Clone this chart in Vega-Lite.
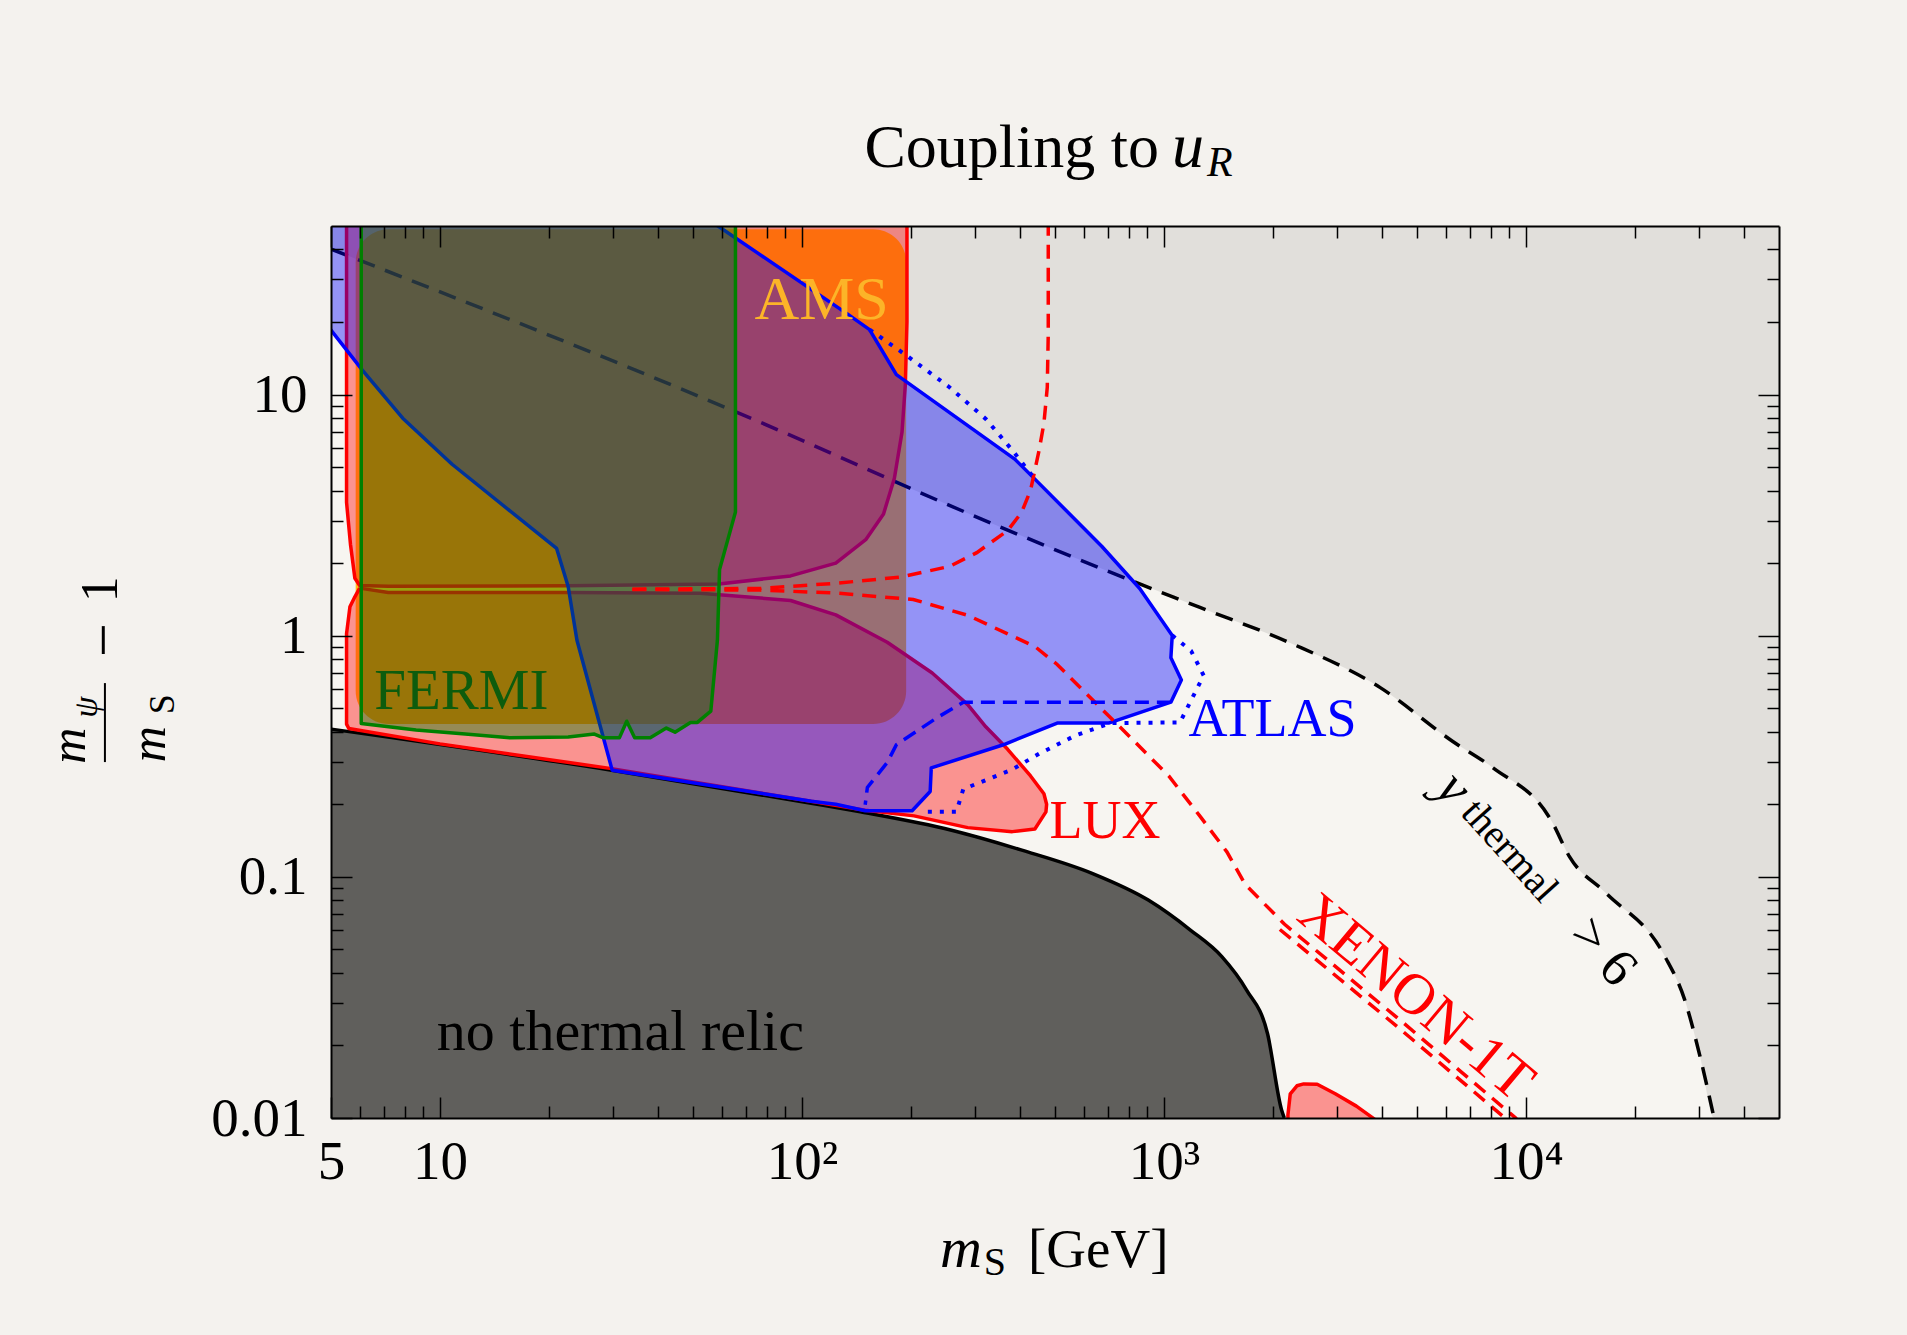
{
  "$schema": "https://vega.github.io/schema/vega-lite/v6.json",
  "width": 1448,
  "height": 892,
  "autosize": {"type": "none"},
  "padding": {"left": 331, "top": 226, "right": 128, "bottom": 217},
  "background": "#f4f2ee",
  "config": {
    "view": {"stroke": null, "fill": "#f7f5f1"},
    "axis": {"domainColor": "#000", "domainWidth": 2, "tickColor": "#000", "tickWidth": 1.5, "labelFont": "Liberation Serif", "labelFontSize": 55, "labelColor": "#000", "grid": false, "labelOverlap": false, "labelFlush": false, "labelBound": false, "title": null},
    "text": {"font": "Liberation Serif"}
  },
  "resolve": {"axis": {"x": "independent", "y": "independent"}},
  "datasets": {
    "thermal": [
      {"x": 5, "y": 40.1}, {"x": 66.4, "y": 8.42}, {"x": 344, "y": 2.87}, {"x": 799, "y": 1.71},
      {"x": 1257, "y": 1.31}, {"x": 2233, "y": 0.933}, {"x": 3958, "y": 0.609}, {"x": 6265, "y": 0.365},
      {"x": 8110, "y": 0.283}, {"x": 11776, "y": 0.17}, {"x": 13200, "y": 0.121}, {"x": 16617, "y": 0.0858},
      {"x": 24116, "y": 0.0472}, {"x": 27450, "y": 0.0309}, {"x": 30335, "y": 0.0177}, {"x": 33075, "y": 0.01},
      {"x": 50000, "y": 0.01}
    ],
    "relic": [
      {"x": 5, "y": 0.41}, {"x": 29.8, "y": 0.277}, {"x": 106, "y": 0.202}, {"x": 145, "y": 0.186},
      {"x": 259, "y": 0.156}, {"x": 405, "y": 0.129}, {"x": 633, "y": 0.1034}, {"x": 905, "y": 0.0801},
      {"x": 1183, "y": 0.0602}, {"x": 1445, "y": 0.0467}, {"x": 1690, "y": 0.034}, {"x": 1932, "y": 0.0224},
      {"x": 2113, "y": 0.0108}, {"x": 2150, "y": 0.01}
    ],
    "ams": [{"x": 5.85, "x2": 194, "y": 0.43, "y2": 48.5}],
    "lux": [
      {"part": "upper", "i": 1, "x": 5.52, "y": 60}, {"part": "upper", "i": 2, "x": 5.52, "y": 3.57},
      {"part": "upper", "i": 3, "x": 5.66, "y": 2.39}, {"part": "upper", "i": 4, "x": 5.82, "y": 1.73},
      {"part": "upper", "i": 5, "x": 6.0, "y": 1.615}, {"part": "upper", "i": 6, "x": 7.2, "y": 1.605},
      {"part": "upper", "i": 7, "x": 22.6, "y": 1.61}, {"part": "upper", "i": 8, "x": 59, "y": 1.64},
      {"part": "upper", "i": 9, "x": 93, "y": 1.77}, {"part": "upper", "i": 10, "x": 124, "y": 2.0},
      {"part": "upper", "i": 11, "x": 150, "y": 2.5}, {"part": "upper", "i": 12, "x": 168, "y": 3.2},
      {"part": "upper", "i": 13, "x": 180, "y": 4.5}, {"part": "upper", "i": 14, "x": 189, "y": 7},
      {"part": "upper", "i": 15, "x": 193, "y": 11}, {"part": "upper", "i": 16, "x": 195, "y": 20},
      {"part": "upper", "i": 17, "x": 195, "y": 60}, {"part": "upper", "i": 18, "x": 5.52, "y": 60},
      {"part": "lower", "i": 1, "x": 6.0, "y": 1.575}, {"part": "lower", "i": 2, "x": 7.2, "y": 1.512},
      {"part": "lower", "i": 3, "x": 22.6, "y": 1.51}, {"part": "lower", "i": 4, "x": 52.3, "y": 1.5},
      {"part": "lower", "i": 5, "x": 93, "y": 1.4}, {"part": "lower", "i": 6, "x": 124, "y": 1.22},
      {"part": "lower", "i": 7, "x": 172, "y": 0.94}, {"part": "lower", "i": 8, "x": 229, "y": 0.7},
      {"part": "lower", "i": 9, "x": 287, "y": 0.518}, {"part": "lower", "i": 10, "x": 322, "y": 0.419},
      {"part": "lower", "i": 11, "x": 370, "y": 0.338}, {"part": "lower", "i": 12, "x": 428, "y": 0.262},
      {"part": "lower", "i": 13, "x": 466, "y": 0.221}, {"part": "lower", "i": 14, "x": 474, "y": 0.2},
      {"part": "lower", "i": 15, "x": 472, "y": 0.186}, {"part": "lower", "i": 16, "x": 440, "y": 0.158},
      {"part": "lower", "i": 17, "x": 381, "y": 0.154}, {"part": "lower", "i": 18, "x": 287, "y": 0.16},
      {"part": "lower", "i": 19, "x": 204, "y": 0.179}, {"part": "lower", "i": 20, "x": 149.5, "y": 0.189},
      {"part": "lower", "i": 21, "x": 106, "y": 0.206}, {"part": "lower", "i": 22, "x": 29.8, "y": 0.281},
      {"part": "lower", "i": 23, "x": 10, "y": 0.356}, {"part": "lower", "i": 24, "x": 5.6, "y": 0.412},
      {"part": "lower", "i": 25, "x": 5.52, "y": 0.43}, {"part": "lower", "i": 26, "x": 5.52, "y": 1.02},
      {"part": "lower", "i": 27, "x": 5.64, "y": 1.318}, {"part": "lower", "i": 28, "x": 5.82, "y": 1.45},
      {"part": "lower", "i": 29, "x": 6.0, "y": 1.575},
      {"part": "blob", "i": 1, "x": 2200, "y": 0.009}, {"part": "blob", "i": 2, "x": 2200, "y": 0.0103},
      {"part": "blob", "i": 3, "x": 2233, "y": 0.0126}, {"part": "blob", "i": 4, "x": 2330, "y": 0.0136},
      {"part": "blob", "i": 5, "x": 2432, "y": 0.01385}, {"part": "blob", "i": 6, "x": 2650, "y": 0.0138},
      {"part": "blob", "i": 7, "x": 2973, "y": 0.0126}, {"part": "blob", "i": 8, "x": 3400, "y": 0.0112},
      {"part": "blob", "i": 9, "x": 3815, "y": 0.0099}, {"part": "blob", "i": 10, "x": 3850, "y": 0.009},
      {"part": "blob", "i": 11, "x": 2200, "y": 0.009}
    ],
    "atlas": [
      {"i": 1, "x": 4.9, "y": 60}, {"i": 2, "x": 4.9, "y": 19.2}, {"i": 3, "x": 5, "y": 18.5},
      {"i": 4, "x": 6.11, "y": 12.6}, {"i": 5, "x": 7.89, "y": 7.98}, {"i": 6, "x": 10.8, "y": 5.14},
      {"i": 7, "x": 21, "y": 2.3}, {"i": 8, "x": 22.6, "y": 1.6}, {"i": 9, "x": 23.9, "y": 0.958},
      {"i": 10, "x": 29.9, "y": 0.277}, {"i": 11, "x": 106, "y": 0.206}, {"i": 12, "x": 124, "y": 0.2},
      {"i": 13, "x": 149.5, "y": 0.188}, {"i": 14, "x": 201.5, "y": 0.188}, {"i": 15, "x": 226, "y": 0.226},
      {"i": 16, "x": 227.6, "y": 0.283}, {"i": 17, "x": 360, "y": 0.353}, {"i": 18, "x": 507, "y": 0.434},
      {"i": 19, "x": 703, "y": 0.434}, {"i": 20, "x": 1045, "y": 0.53}, {"i": 21, "x": 1117, "y": 0.655},
      {"i": 22, "x": 1045, "y": 0.811}, {"i": 23, "x": 1054, "y": 1.003}, {"i": 24, "x": 857, "y": 1.57},
      {"i": 25, "x": 673, "y": 2.35}, {"i": 26, "x": 440, "y": 4.46}, {"i": 27, "x": 387, "y": 5.4},
      {"i": 28, "x": 182.3, "y": 12.1}, {"i": 29, "x": 153.7, "y": 18.6}, {"i": 30, "x": 133.4, "y": 21.6},
      {"i": 31, "x": 58.6, "y": 50}, {"i": 32, "x": 49, "y": 60}, {"i": 33, "x": 4.9, "y": 60}
    ],
    "fermi": [
      {"i": 1, "x": 6.06, "y": 60}, {"i": 2, "x": 6.06, "y": 0.432}, {"i": 3, "x": 8.59, "y": 0.406},
      {"i": 4, "x": 11.74, "y": 0.391}, {"i": 5, "x": 15.6, "y": 0.377}, {"i": 6, "x": 22.6, "y": 0.38},
      {"i": 7, "x": 26.7, "y": 0.391}, {"i": 8, "x": 28.3, "y": 0.377}, {"i": 9, "x": 31.3, "y": 0.377},
      {"i": 10, "x": 32.8, "y": 0.442}, {"i": 11, "x": 34.5, "y": 0.377}, {"i": 12, "x": 38.1, "y": 0.377},
      {"i": 13, "x": 42.2, "y": 0.414}, {"i": 14, "x": 44.6, "y": 0.398}, {"i": 15, "x": 49.2, "y": 0.437},
      {"i": 16, "x": 51.4, "y": 0.437}, {"i": 17, "x": 56, "y": 0.487}, {"i": 18, "x": 58.4, "y": 0.958},
      {"i": 19, "x": 59.2, "y": 1.88}, {"i": 20, "x": 65.5, "y": 3.26}, {"i": 21, "x": 65.5, "y": 60},
      {"i": 22, "x": 6.06, "y": 60}
    ],
    "xenon": [
      {"part": "upper", "i": 1, "x": 34, "y": 1.56}, {"part": "upper", "i": 2, "x": 76.6, "y": 1.57},
      {"part": "upper", "i": 3, "x": 124, "y": 1.65}, {"part": "upper", "i": 4, "x": 187.6, "y": 1.75},
      {"part": "upper", "i": 5, "x": 256, "y": 1.94}, {"part": "upper", "i": 6, "x": 304, "y": 2.21},
      {"part": "upper", "i": 7, "x": 370, "y": 2.73}, {"part": "upper", "i": 8, "x": 404, "y": 3.24},
      {"part": "upper", "i": 9, "x": 428, "y": 4.01}, {"part": "upper", "i": 10, "x": 452, "y": 5.88},
      {"part": "upper", "i": 11, "x": 466, "y": 7.6}, {"part": "upper", "i": 12, "x": 476, "y": 10.7},
      {"part": "upper", "i": 13, "x": 479, "y": 17.8}, {"part": "upper", "i": 14, "x": 479, "y": 60},
      {"part": "lower", "i": 1, "x": 34, "y": 1.555}, {"part": "lower", "i": 2, "x": 76.6, "y": 1.546},
      {"part": "lower", "i": 3, "x": 124, "y": 1.503}, {"part": "lower", "i": 4, "x": 203, "y": 1.413},
      {"part": "lower", "i": 5, "x": 287, "y": 1.215}, {"part": "lower", "i": 6, "x": 440, "y": 0.902},
      {"part": "lower", "i": 7, "x": 507, "y": 0.76}, {"part": "lower", "i": 8, "x": 584, "y": 0.614},
      {"part": "lower", "i": 9, "x": 673, "y": 0.497}, {"part": "lower", "i": 10, "x": 799, "y": 0.385},
      {"part": "lower", "i": 11, "x": 1031, "y": 0.262}, {"part": "lower", "i": 12, "x": 1257, "y": 0.1785},
      {"part": "lower", "i": 13, "x": 1492, "y": 0.127}, {"part": "lower", "i": 14, "x": 1674, "y": 0.0933},
      {"part": "lower", "i": 15, "x": 2150, "y": 0.0637}, {"part": "lower", "i": 16, "x": 4570, "y": 0.0249},
      {"part": "lower", "i": 17, "x": 9365, "y": 0.01}, {"part": "lower", "i": 18, "x": 9900, "y": 0.009},
      {"part": "twin", "i": 1, "x": 2090, "y": 0.0605}, {"part": "twin", "i": 2, "x": 4442, "y": 0.0237},
      {"part": "twin", "i": 3, "x": 9103, "y": 0.0095}, {"part": "twin", "i": 4, "x": 9500, "y": 0.0088}
    ],
    "atlasLines": [
      {"kind": "dotted", "part": "top", "i": 1, "x": 153.7, "y": 18.6}, {"kind": "dotted", "part": "top", "i": 2, "x": 196, "y": 14.4},
      {"kind": "dotted", "part": "top", "i": 3, "x": 256, "y": 10.7}, {"kind": "dotted", "part": "top", "i": 4, "x": 322, "y": 7.92},
      {"kind": "dotted", "part": "top", "i": 5, "x": 381, "y": 5.88}, {"kind": "dotted", "part": "top", "i": 6, "x": 440, "y": 4.46},
      {"kind": "dotted", "part": "bottom", "i": 1, "x": 1054, "y": 1.003}, {"kind": "dotted", "part": "bottom", "i": 2, "x": 1189, "y": 0.864},
      {"kind": "dotted", "part": "bottom", "i": 3, "x": 1287, "y": 0.684}, {"kind": "dotted", "part": "bottom", "i": 4, "x": 1107, "y": 0.437},
      {"kind": "dotted", "part": "bottom", "i": 5, "x": 712, "y": 0.434}, {"kind": "dotted", "part": "bottom", "i": 6, "x": 568, "y": 0.385},
      {"kind": "dotted", "part": "bottom", "i": 7, "x": 452, "y": 0.324}, {"kind": "dotted", "part": "bottom", "i": 8, "x": 381, "y": 0.279},
      {"kind": "dotted", "part": "bottom", "i": 9, "x": 279, "y": 0.231}, {"kind": "dotted", "part": "bottom", "i": 10, "x": 267, "y": 0.186},
      {"kind": "dotted", "part": "bottom", "i": 11, "x": 216, "y": 0.186},
      {"kind": "dashed", "part": "mid", "i": 1, "x": 1045, "y": 0.53}, {"kind": "dashed", "part": "mid", "i": 2, "x": 279, "y": 0.53},
      {"kind": "dashed", "part": "mid", "i": 3, "x": 235.5, "y": 0.456}, {"kind": "dashed", "part": "mid", "i": 4, "x": 182.3, "y": 0.353},
      {"kind": "dashed", "part": "mid", "i": 5, "x": 172, "y": 0.298}, {"kind": "dashed", "part": "mid", "i": 6, "x": 151.6, "y": 0.235},
      {"kind": "dashed", "part": "mid", "i": 7, "x": 149.5, "y": 0.199}
    ],
    "fraction": [{"x": 1.187, "y": 0.636, "y2": 0.2992}],
    "labels": [
      {"key": "ams", "text": "AMS", "x": 113.3, "y": 20.6},
      {"key": "fermi", "text": "FERMI", "x": 11.46, "y": 0.496},
      {"key": "atlas", "text": "ATLAS", "x": 1994, "y": 0.382},
      {"key": "lux", "text": "LUX", "x": 687, "y": 0.145},
      {"key": "xenon", "text": "XENON-1T", "x": 4953, "y": 0.0315},
      {"key": "relic", "text": "no thermal relic", "x": 31.5, "y": 0.0192},
      {"key": "ysym", "text": "y", "x": 6300, "y": 0.232},
      {"key": "ysub", "text": "thermal", "x": 9000, "y": 0.128},
      {"key": "ycut", "text": ">  6", "x": 16300, "y": 0.0488},
      {"key": "title", "text": "Coupling to", "x": 969, "y": 87.7},
      {"key": "title_u", "text": "u", "x": 1052, "y": 87.7},
      {"key": "title_r", "text": "R", "x": 1315, "y": 80.4},
      {"key": "xt_m", "text": "m", "x": 240.6, "y": 0.00241},
      {"key": "xt_s", "text": "S", "x": 318, "y": 0.00223},
      {"key": "xt_unit", "text": "[GeV]", "x": 421, "y": 0.00241},
      {"key": "yt_m", "text": "m", "x": 0.95, "y": 0.35},
      {"key": "yt_m", "text": "m", "x": 1.58, "y": 0.355},
      {"key": "yt_psi", "text": "ψ", "x": 1.06, "y": 0.505},
      {"key": "yt_s", "text": "S", "x": 1.72, "y": 0.52},
      {"key": "yt_minus", "text": "−", "x": 1.187, "y": 0.96},
      {"key": "yt_one", "text": "1", "x": 1.158, "y": 1.56}
    ]
  },
  "layer": [
    {
      "data": {"name": "thermal"},
      "mark": {"type": "area", "color": "#e1dfdb", "clip": true, "interpolate": "monotone"},
      "encoding": {
        "x": {"field": "x", "type": "quantitative", "scale": {"type": "log", "domain": [5, 50000], "nice": false},
          "axis": {"orient": "bottom", "zindex": 1, "values": [5, 6, 7, 8, 9, 10, 20, 30, 40, 50, 60, 70, 80, 90, 100, 200, 300, 400, 500, 600, 700, 800, 900, 1000, 2000, 3000, 4000, 5000, 6000, 7000, 8000, 9000, 10000, 20000, 30000, 40000],
            "labelExpr": "datum.value == 5 ? '5' : datum.value == 10 ? '10' : datum.value == 100 ? '10²' : datum.value == 1000 ? '10³' : datum.value == 10000 ? '10⁴' : ''",
            "tickSize": {"condition": {"test": "datum.value == 5 || datum.value == 10 || datum.value == 100 || datum.value == 1000 || datum.value == 10000", "value": -21}, "value": -12},
            "labelPadding": 38}},
        "y": {"field": "y", "type": "quantitative", "scale": {"type": "log", "domain": [0.01, 50], "nice": false},
          "axis": {"orient": "left", "zindex": 1, "values": [0.01, 0.02, 0.03, 0.04, 0.05, 0.06, 0.07, 0.08, 0.09, 0.1, 0.2, 0.3, 0.4, 0.5, 0.6, 0.7, 0.8, 0.9, 1, 2, 3, 4, 5, 6, 7, 8, 9, 10, 20, 30, 40],
            "labelExpr": "datum.value == 0.01 ? '0.01' : datum.value == 0.1 ? '0.1' : datum.value == 1 ? '1' : datum.value == 10 ? '10' : ''",
            "tickSize": {"condition": {"test": "datum.value == 0.01 || datum.value == 0.1 || datum.value == 1 || datum.value == 10", "value": -21}, "value": -12},
            "labelPadding": 45}},
        "y2": {"datum": 50}
      }
    },
    {
      "data": {"name": "relic"},
      "mark": {"type": "area", "color": "#605f5c", "clip": true, "interpolate": "monotone"},
      "encoding": {
        "x": {"field": "x", "type": "quantitative", "scale": {"type": "log", "domain": [5, 50000], "nice": false}, "axis": null},
        "y": {"field": "y", "type": "quantitative", "scale": {"type": "log", "domain": [0.01, 50], "nice": false}, "axis": null},
        "y2": {"datum": 0.01}
      }
    },
    {
      "data": {"name": "relic"},
      "mark": {"type": "line", "color": "#000", "strokeWidth": 3.5, "clip": true, "interpolate": "monotone"},
      "encoding": {
        "x": {"field": "x", "type": "quantitative", "scale": {"type": "log", "domain": [5, 50000], "nice": false}, "axis": null},
        "y": {"field": "y", "type": "quantitative", "scale": {"type": "log", "domain": [0.01, 50], "nice": false}, "axis": null}
      }
    },
    {
      "data": {"name": "ams"},
      "mark": {"type": "rect", "fill": "#ffb400", "opacity": 0.9, "cornerRadius": 33, "clip": true},
      "encoding": {
        "x": {"field": "x", "type": "quantitative", "scale": {"type": "log", "domain": [5, 50000], "nice": false}, "axis": null},
        "x2": {"field": "x2"},
        "y": {"field": "y", "type": "quantitative", "scale": {"type": "log", "domain": [0.01, 50], "nice": false}, "axis": null},
        "y2": {"field": "y2"}
      }
    },
    {
      "data": {"name": "thermal"},
      "transform": [{"filter": "datum.x < 40000"}],
      "mark": {"type": "line", "color": "#000", "strokeWidth": 3.5, "strokeDash": [18, 11], "clip": true, "interpolate": "monotone"},
      "encoding": {
        "x": {"field": "x", "type": "quantitative", "scale": {"type": "log", "domain": [5, 50000], "nice": false},
          "axis": {"orient": "top", "zindex": 1, "labels": false, "values": [5, 6, 7, 8, 9, 10, 20, 30, 40, 50, 60, 70, 80, 90, 100, 200, 300, 400, 500, 600, 700, 800, 900, 1000, 2000, 3000, 4000, 5000, 6000, 7000, 8000, 9000, 10000, 20000, 30000, 40000],
            "tickSize": {"condition": {"test": "datum.value == 5 || datum.value == 10 || datum.value == 100 || datum.value == 1000 || datum.value == 10000", "value": -21}, "value": -12}}},
        "y": {"field": "y", "type": "quantitative", "scale": {"type": "log", "domain": [0.01, 50], "nice": false},
          "axis": {"orient": "right", "zindex": 1, "labels": false, "values": [0.01, 0.02, 0.03, 0.04, 0.05, 0.06, 0.07, 0.08, 0.09, 0.1, 0.2, 0.3, 0.4, 0.5, 0.6, 0.7, 0.8, 0.9, 1, 2, 3, 4, 5, 6, 7, 8, 9, 10, 20, 30, 40],
            "tickSize": {"condition": {"test": "datum.value == 0.01 || datum.value == 0.1 || datum.value == 1 || datum.value == 10", "value": -21}, "value": -12}}}
      }
    },
    {
      "data": {"name": "lux"},
      "mark": {"type": "line", "stroke": "#ff0000", "fill": "#ff0000", "fillOpacity": 0.4, "strokeWidth": 3.5, "strokeJoin": "round", "clip": true},
      "encoding": {
        "x": {"field": "x", "type": "quantitative", "scale": {"type": "log", "domain": [5, 50000], "nice": false}, "axis": null},
        "y": {"field": "y", "type": "quantitative", "scale": {"type": "log", "domain": [0.01, 50], "nice": false}, "axis": null},
        "detail": {"field": "part"},
        "order": {"field": "i", "type": "quantitative"}
      }
    },
    {
      "data": {"name": "atlas"},
      "mark": {"type": "line", "stroke": "#0000ff", "fill": "#0000ff", "fillOpacity": 0.4, "strokeWidth": 3.5, "strokeJoin": "round", "clip": true},
      "encoding": {
        "x": {"field": "x", "type": "quantitative", "scale": {"type": "log", "domain": [5, 50000], "nice": false}, "axis": null},
        "y": {"field": "y", "type": "quantitative", "scale": {"type": "log", "domain": [0.01, 50], "nice": false}, "axis": null},
        "order": {"field": "i", "type": "quantitative"}
      }
    },
    {
      "data": {"name": "fermi"},
      "mark": {"type": "line", "stroke": "#008000", "fill": "#008000", "fillOpacity": 0.4, "strokeWidth": 3.5, "strokeJoin": "round", "clip": true},
      "encoding": {
        "x": {"field": "x", "type": "quantitative", "scale": {"type": "log", "domain": [5, 50000], "nice": false}, "axis": null},
        "y": {"field": "y", "type": "quantitative", "scale": {"type": "log", "domain": [0.01, 50], "nice": false}, "axis": null},
        "order": {"field": "i", "type": "quantitative"}
      }
    },
    {
      "data": {"name": "xenon"},
      "mark": {"type": "line", "color": "#ff0000", "strokeWidth": 3.5, "strokeDash": [14, 9], "clip": true},
      "encoding": {
        "x": {"field": "x", "type": "quantitative", "scale": {"type": "log", "domain": [5, 50000], "nice": false}, "axis": null},
        "y": {"field": "y", "type": "quantitative", "scale": {"type": "log", "domain": [0.01, 50], "nice": false}, "axis": null},
        "detail": {"field": "part"},
        "order": {"field": "i", "type": "quantitative"}
      }
    },
    {
      "data": {"name": "atlasLines"},
      "transform": [{"filter": "datum.kind == 'dotted'"}],
      "mark": {"type": "line", "color": "#0000ff", "strokeWidth": 4, "strokeDash": [4, 8], "clip": true},
      "encoding": {
        "x": {"field": "x", "type": "quantitative", "scale": {"type": "log", "domain": [5, 50000], "nice": false}, "axis": null},
        "y": {"field": "y", "type": "quantitative", "scale": {"type": "log", "domain": [0.01, 50], "nice": false}, "axis": null},
        "detail": {"field": "part"},
        "order": {"field": "i", "type": "quantitative"}
      }
    },
    {
      "data": {"name": "atlasLines"},
      "transform": [{"filter": "datum.kind == 'dashed'"}],
      "mark": {"type": "line", "color": "#0000ff", "strokeWidth": 3.5, "strokeDash": [14, 8], "clip": true},
      "encoding": {
        "x": {"field": "x", "type": "quantitative", "scale": {"type": "log", "domain": [5, 50000], "nice": false}, "axis": null},
        "y": {"field": "y", "type": "quantitative", "scale": {"type": "log", "domain": [0.01, 50], "nice": false}, "axis": null},
        "order": {"field": "i", "type": "quantitative"}
      }
    },
    {
      "data": {"name": "fraction"},
      "mark": {"type": "rule", "color": "#000", "strokeWidth": 2},
      "encoding": {
        "x": {"field": "x", "type": "quantitative", "scale": {"type": "log", "domain": [5, 50000], "nice": false}, "axis": null},
        "y": {"field": "y", "type": "quantitative", "scale": {"type": "log", "domain": [0.01, 50], "nice": false}, "axis": null},
        "y2": {"field": "y2"}
      }
    },
    {
      "data": {"name": "labels"},
      "transform": [{"filter": "datum.key == 'ams'"}],
      "mark": {"type": "text", "font": "Liberation Serif", "fontSize": 62, "color": "#fcb428", "align": "center", "baseline": "alphabetic"},
      "encoding": {
        "x": {"field": "x", "type": "quantitative", "scale": {"type": "log", "domain": [5, 50000], "nice": false}, "axis": null},
        "y": {"field": "y", "type": "quantitative", "scale": {"type": "log", "domain": [0.01, 50], "nice": false}, "axis": null},
        "text": {"field": "text"}
      }
    },
    {
      "data": {"name": "labels"},
      "transform": [{"filter": "datum.key == 'fermi'"}],
      "mark": {"type": "text", "font": "Liberation Serif", "fontSize": 57, "color": "#0d5c0d", "align": "center", "baseline": "alphabetic"},
      "encoding": {
        "x": {"field": "x", "type": "quantitative", "scale": {"type": "log", "domain": [5, 50000], "nice": false}, "axis": null},
        "y": {"field": "y", "type": "quantitative", "scale": {"type": "log", "domain": [0.01, 50], "nice": false}, "axis": null},
        "text": {"field": "text"}
      }
    },
    {
      "data": {"name": "labels"},
      "transform": [{"filter": "datum.key == 'atlas'"}],
      "mark": {"type": "text", "font": "Liberation Serif", "fontSize": 54, "color": "#0000ff", "align": "center", "baseline": "alphabetic"},
      "encoding": {
        "x": {"field": "x", "type": "quantitative", "scale": {"type": "log", "domain": [5, 50000], "nice": false}, "axis": null},
        "y": {"field": "y", "type": "quantitative", "scale": {"type": "log", "domain": [0.01, 50], "nice": false}, "axis": null},
        "text": {"field": "text"}
      }
    },
    {
      "data": {"name": "labels"},
      "transform": [{"filter": "datum.key == 'lux'"}],
      "mark": {"type": "text", "font": "Liberation Serif", "fontSize": 54, "color": "#ff0000", "align": "center", "baseline": "alphabetic"},
      "encoding": {
        "x": {"field": "x", "type": "quantitative", "scale": {"type": "log", "domain": [5, 50000], "nice": false}, "axis": null},
        "y": {"field": "y", "type": "quantitative", "scale": {"type": "log", "domain": [0.01, 50], "nice": false}, "axis": null},
        "text": {"field": "text"}
      }
    },
    {
      "data": {"name": "labels"},
      "transform": [{"filter": "datum.key == 'xenon'"}],
      "mark": {"type": "text", "font": "Liberation Serif", "fontSize": 58, "color": "#ff0000", "align": "center", "baseline": "middle", "angle": 40},
      "encoding": {
        "x": {"field": "x", "type": "quantitative", "scale": {"type": "log", "domain": [5, 50000], "nice": false}, "axis": null},
        "y": {"field": "y", "type": "quantitative", "scale": {"type": "log", "domain": [0.01, 50], "nice": false}, "axis": null},
        "text": {"field": "text"}
      }
    },
    {
      "data": {"name": "labels"},
      "transform": [{"filter": "datum.key == 'relic'"}],
      "mark": {"type": "text", "font": "Liberation Serif", "fontSize": 58, "color": "#000", "align": "center", "baseline": "alphabetic"},
      "encoding": {
        "x": {"field": "x", "type": "quantitative", "scale": {"type": "log", "domain": [5, 50000], "nice": false}, "axis": null},
        "y": {"field": "y", "type": "quantitative", "scale": {"type": "log", "domain": [0.01, 50], "nice": false}, "axis": null},
        "text": {"field": "text"}
      }
    },
    {
      "data": {"name": "labels"},
      "transform": [{"filter": "datum.key == 'ysym'"}],
      "mark": {"type": "text", "font": "Liberation Serif", "fontSize": 54, "fontStyle": "italic", "color": "#000", "align": "center", "baseline": "middle", "angle": 48},
      "encoding": {
        "x": {"field": "x", "type": "quantitative", "scale": {"type": "log", "domain": [5, 50000], "nice": false}, "axis": null},
        "y": {"field": "y", "type": "quantitative", "scale": {"type": "log", "domain": [0.01, 50], "nice": false}, "axis": null},
        "text": {"field": "text"}
      }
    },
    {
      "data": {"name": "labels"},
      "transform": [{"filter": "datum.key == 'ysub'"}],
      "mark": {"type": "text", "font": "Liberation Serif", "fontSize": 40, "color": "#000", "align": "center", "baseline": "middle", "angle": 48},
      "encoding": {
        "x": {"field": "x", "type": "quantitative", "scale": {"type": "log", "domain": [5, 50000], "nice": false}, "axis": null},
        "y": {"field": "y", "type": "quantitative", "scale": {"type": "log", "domain": [0.01, 50], "nice": false}, "axis": null},
        "text": {"field": "text"}
      }
    },
    {
      "data": {"name": "labels"},
      "transform": [{"filter": "datum.key == 'ycut'"}],
      "mark": {"type": "text", "font": "Liberation Serif", "fontSize": 54, "color": "#000", "align": "center", "baseline": "middle", "angle": 48},
      "encoding": {
        "x": {"field": "x", "type": "quantitative", "scale": {"type": "log", "domain": [5, 50000], "nice": false}, "axis": null},
        "y": {"field": "y", "type": "quantitative", "scale": {"type": "log", "domain": [0.01, 50], "nice": false}, "axis": null},
        "text": {"field": "text"}
      }
    },
    {
      "data": {"name": "labels"},
      "transform": [{"filter": "datum.key == 'title'"}],
      "mark": {"type": "text", "font": "Liberation Serif", "fontSize": 62, "color": "#000", "align": "right", "baseline": "alphabetic"},
      "encoding": {
        "x": {"field": "x", "type": "quantitative", "scale": {"type": "log", "domain": [5, 50000], "nice": false}, "axis": null},
        "y": {"field": "y", "type": "quantitative", "scale": {"type": "log", "domain": [0.01, 50], "nice": false}, "axis": null},
        "text": {"field": "text"}
      }
    },
    {
      "data": {"name": "labels"},
      "transform": [{"filter": "datum.key == 'title_u'"}],
      "mark": {"type": "text", "font": "Liberation Serif", "fontSize": 64, "fontStyle": "italic", "color": "#000", "align": "left", "baseline": "alphabetic"},
      "encoding": {
        "x": {"field": "x", "type": "quantitative", "scale": {"type": "log", "domain": [5, 50000], "nice": false}, "axis": null},
        "y": {"field": "y", "type": "quantitative", "scale": {"type": "log", "domain": [0.01, 50], "nice": false}, "axis": null},
        "text": {"field": "text"}
      }
    },
    {
      "data": {"name": "labels"},
      "transform": [{"filter": "datum.key == 'title_r'"}],
      "mark": {"type": "text", "font": "Liberation Serif", "fontSize": 42, "fontStyle": "italic", "color": "#000", "align": "left", "baseline": "alphabetic"},
      "encoding": {
        "x": {"field": "x", "type": "quantitative", "scale": {"type": "log", "domain": [5, 50000], "nice": false}, "axis": null},
        "y": {"field": "y", "type": "quantitative", "scale": {"type": "log", "domain": [0.01, 50], "nice": false}, "axis": null},
        "text": {"field": "text"}
      }
    },
    {
      "data": {"name": "labels"},
      "transform": [{"filter": "datum.key == 'xt_m'"}],
      "mark": {"type": "text", "font": "Liberation Serif", "fontSize": 58, "fontStyle": "italic", "color": "#000", "align": "left", "baseline": "alphabetic"},
      "encoding": {
        "x": {"field": "x", "type": "quantitative", "scale": {"type": "log", "domain": [5, 50000], "nice": false}, "axis": null},
        "y": {"field": "y", "type": "quantitative", "scale": {"type": "log", "domain": [0.01, 50], "nice": false}, "axis": null},
        "text": {"field": "text"}
      }
    },
    {
      "data": {"name": "labels"},
      "transform": [{"filter": "datum.key == 'xt_s'"}],
      "mark": {"type": "text", "font": "Liberation Serif", "fontSize": 40, "color": "#000", "align": "left", "baseline": "alphabetic"},
      "encoding": {
        "x": {"field": "x", "type": "quantitative", "scale": {"type": "log", "domain": [5, 50000], "nice": false}, "axis": null},
        "y": {"field": "y", "type": "quantitative", "scale": {"type": "log", "domain": [0.01, 50], "nice": false}, "axis": null},
        "text": {"field": "text"}
      }
    },
    {
      "data": {"name": "labels"},
      "transform": [{"filter": "datum.key == 'xt_unit'"}],
      "mark": {"type": "text", "font": "Liberation Serif", "fontSize": 55, "color": "#000", "align": "left", "baseline": "alphabetic"},
      "encoding": {
        "x": {"field": "x", "type": "quantitative", "scale": {"type": "log", "domain": [5, 50000], "nice": false}, "axis": null},
        "y": {"field": "y", "type": "quantitative", "scale": {"type": "log", "domain": [0.01, 50], "nice": false}, "axis": null},
        "text": {"field": "text"}
      }
    },
    {
      "data": {"name": "labels"},
      "transform": [{"filter": "datum.key == 'yt_m'"}],
      "mark": {"type": "text", "font": "Liberation Serif", "fontSize": 50, "fontStyle": "italic", "color": "#000", "align": "center", "baseline": "middle", "angle": 270},
      "encoding": {
        "x": {"field": "x", "type": "quantitative", "scale": {"type": "log", "domain": [5, 50000], "nice": false}, "axis": null},
        "y": {"field": "y", "type": "quantitative", "scale": {"type": "log", "domain": [0.01, 50], "nice": false}, "axis": null},
        "text": {"field": "text"}
      }
    },
    {
      "data": {"name": "labels"},
      "transform": [{"filter": "datum.key == 'yt_psi'"}],
      "mark": {"type": "text", "font": "Liberation Serif", "fontSize": 34, "fontStyle": "italic", "color": "#000", "align": "center", "baseline": "middle", "angle": 270},
      "encoding": {
        "x": {"field": "x", "type": "quantitative", "scale": {"type": "log", "domain": [5, 50000], "nice": false}, "axis": null},
        "y": {"field": "y", "type": "quantitative", "scale": {"type": "log", "domain": [0.01, 50], "nice": false}, "axis": null},
        "text": {"field": "text"}
      }
    },
    {
      "data": {"name": "labels"},
      "transform": [{"filter": "datum.key == 'yt_s'"}],
      "mark": {"type": "text", "font": "Liberation Serif", "fontSize": 36, "color": "#000", "align": "center", "baseline": "middle", "angle": 270},
      "encoding": {
        "x": {"field": "x", "type": "quantitative", "scale": {"type": "log", "domain": [5, 50000], "nice": false}, "axis": null},
        "y": {"field": "y", "type": "quantitative", "scale": {"type": "log", "domain": [0.01, 50], "nice": false}, "axis": null},
        "text": {"field": "text"}
      }
    },
    {
      "data": {"name": "labels"},
      "transform": [{"filter": "datum.key == 'yt_minus'"}],
      "mark": {"type": "text", "font": "Liberation Serif", "fontSize": 60, "color": "#000", "align": "center", "baseline": "middle", "angle": 270},
      "encoding": {
        "x": {"field": "x", "type": "quantitative", "scale": {"type": "log", "domain": [5, 50000], "nice": false}, "axis": null},
        "y": {"field": "y", "type": "quantitative", "scale": {"type": "log", "domain": [0.01, 50], "nice": false}, "axis": null},
        "text": {"field": "text"}
      }
    },
    {
      "data": {"name": "labels"},
      "transform": [{"filter": "datum.key == 'yt_one'"}],
      "mark": {"type": "text", "font": "Liberation Serif", "fontSize": 52, "color": "#000", "align": "center", "baseline": "middle", "angle": 270},
      "encoding": {
        "x": {"field": "x", "type": "quantitative", "scale": {"type": "log", "domain": [5, 50000], "nice": false}, "axis": null},
        "y": {"field": "y", "type": "quantitative", "scale": {"type": "log", "domain": [0.01, 50], "nice": false}, "axis": null},
        "text": {"field": "text"}
      }
    }
  ]
}
